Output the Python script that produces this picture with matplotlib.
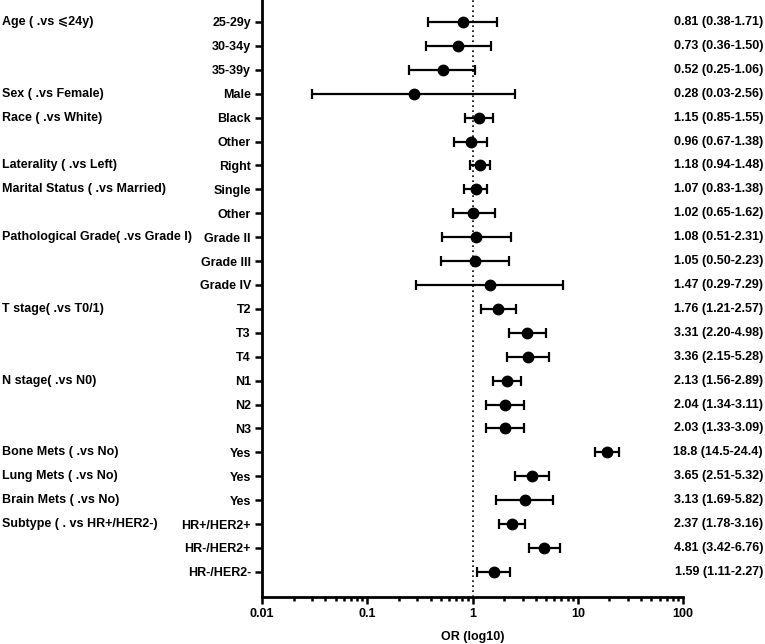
import matplotlib
matplotlib.use("Agg")
import matplotlib.pyplot as plt
import matplotlib.ticker as mticker
import matplotlib.transforms as mtransforms

plt.rcParams['font.family'] = ['Liberation Sans', 'DejaVu Sans']
plt.rcParams['font.weight'] = 'bold'

# Daten
groups = ["Age ( .vs \u2a7d24y)", "", "", "Sex ( .vs Female)", "Race ( .vs White)", "",
          "Laterality ( .vs Left)", "Marital Status ( .vs Married)", "",
          "Pathological Grade( .vs Grade I)", "", "", "T stage( .vs T0/1)", "", "",
          "N stage( .vs N0)", "", "", "Bone Mets ( .vs No)", "Lung Mets ( .vs No)",
          "Brain Mets ( .vs No)", "Subtype ( . vs HR+/HER2-)", "", ""]
levels = ["25-29y", "30-34y", "35-39y", "Male", "Black", "Other", "Right", "Single",
          "Other", "Grade II", "Grade III", "Grade IV", "T2", "T3", "T4", "N1", "N2", "N3",
          "Yes", "Yes", "Yes", "HR+/HER2+", "HR-/HER2+", "HR-/HER2-"]
or_val = [0.81, 0.73, 0.52, 0.28, 1.15, 0.96, 1.18, 1.07, 1.02, 1.08, 1.05, 1.47,
          1.76, 3.31, 3.36, 2.13, 2.04, 2.03, 18.8, 3.65, 3.13, 2.37, 4.81, 1.59]
lower = [0.38, 0.36, 0.25, 0.03, 0.85, 0.67, 0.94, 0.83, 0.65, 0.51, 0.50, 0.29,
         1.21, 2.20, 2.15, 1.56, 1.34, 1.33, 14.5, 2.51, 1.69, 1.78, 3.42, 1.11]
upper = [1.71, 1.50, 1.06, 2.56, 1.55, 1.38, 1.48, 1.38, 1.62, 2.31, 2.23, 7.29,
         2.57, 4.98, 5.28, 2.89, 3.11, 3.09, 24.4, 5.32, 5.82, 3.16, 6.76, 2.27]
or_text = ["0.81 (0.38-1.71)", "0.73 (0.36-1.50)", "0.52 (0.25-1.06)", "0.28 (0.03-2.56)",
           "1.15 (0.85-1.55)", "0.96 (0.67-1.38)", "1.18 (0.94-1.48)", "1.07 (0.83-1.38)",
           "1.02 (0.65-1.62)", "1.08 (0.51-2.31)", "1.05 (0.50-2.23)", "1.47 (0.29-7.29)",
           "1.76 (1.21-2.57)", "3.31 (2.20-4.98)", "3.36 (2.15-5.28)", "2.13 (1.56-2.89)",
           "2.04 (1.34-3.11)", "2.03 (1.33-3.09)", "18.8 (14.5-24.4)", "3.65 (2.51-5.32)",
           "3.13 (1.69-5.82)", "2.37 (1.78-3.16)", "4.81 (3.42-6.76)", "1.59 (1.11-2.27)"]

n = len(levels)
ypos = [n - 1 - i for i in range(n)]

fig = plt.figure(figsize=(7.65, 6.44), dpi=100)
ax = fig.add_axes([262 / 765, 1 - 597 / 644, (683 - 262) / 765, 597 / 644])

xerr = [[o - l for o, l in zip(or_val, lower)], [u - o for o, u in zip(or_val, upper)]]
ax.errorbar(or_val, ypos, xerr=xerr, fmt='o', color='black', ms=7.5,
            elinewidth=1.6, capsize=3.3, capthick=1.6, zorder=3)
ax.axvline(1, color='black', ls=(0, (1, 2)), lw=1.2, zorder=1)

ax.set_xscale('log')
ax.set_xlim(0.01, 100)
ax.set_ylim(-1.05, n - 1 + 0.92)
ax.xaxis.set_major_locator(mticker.LogLocator(base=10))
ax.xaxis.set_major_formatter(mticker.FuncFormatter(lambda v, p: f"{v:g}"))
ax.xaxis.set_minor_locator(mticker.LogLocator(base=10, subs=range(2, 10)))
ax.xaxis.set_minor_formatter(mticker.NullFormatter())

ax.set_yticks(ypos)
ax.set_yticklabels(levels)
ax.tick_params(axis='both', which='major', length=5, width=1.8, labelsize=9, pad=3)
ax.tick_params(axis='x', which='minor', length=3, width=1.8)
ax.set_xlabel("OR (log10)", fontsize=9, fontweight='bold', labelpad=8)

for side in ['top', 'right']:
    ax.spines[side].set_visible(False)
for side in ['left', 'bottom']:
    ax.spines[side].set_linewidth(2)

# Gruppenlabels links, OR-Texte rechts (x in Figurkoordinaten, y in Daten)
trans = mtransforms.blended_transform_factory(fig.transFigure, ax.transData)
for y, g, t in zip(ypos, groups, or_text):
    if g:
        ax.text(2 / 765, y, g, transform=trans, fontsize=9,
                fontweight='bold', va='center', ha='left')
    ax.text(763 / 765, y, t, transform=trans, fontsize=9,
            fontweight='bold', va='center', ha='right')

fig.savefig("out.png", dpi=100)
